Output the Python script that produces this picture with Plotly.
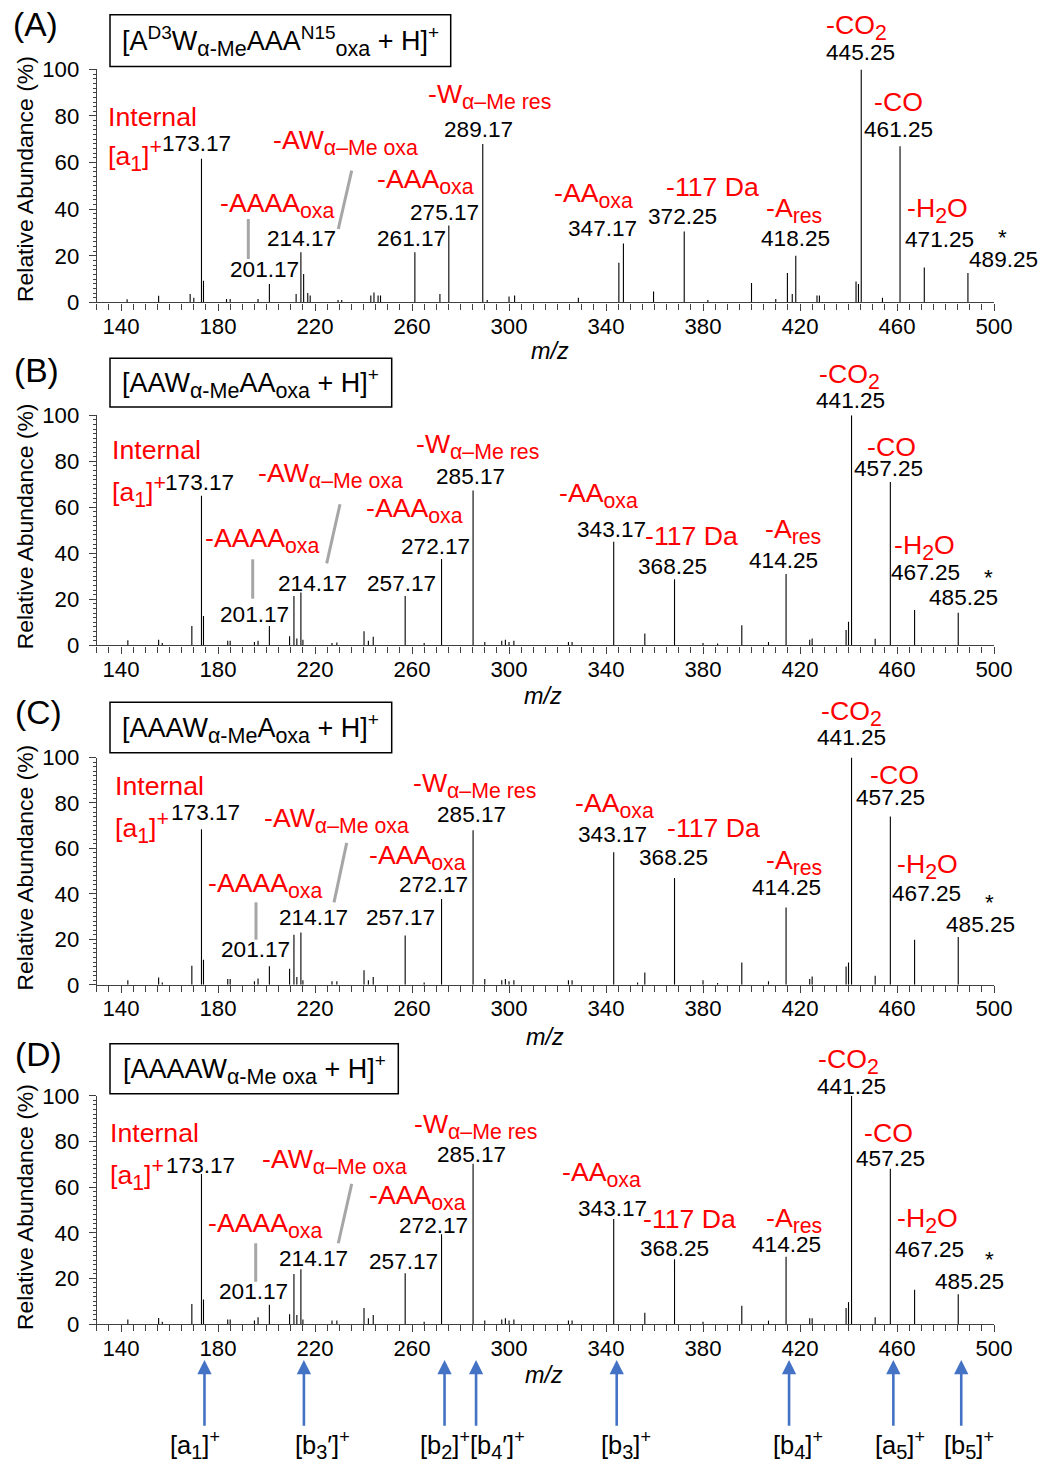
import plotly.graph_objects as go

# The photographed page is letter-boxed; positions below are given in target-picture pixels
TW, TH = 1040, 1467            # target picture size
S = 1040 / 1059                # picture scale
W, H = 1059, 1467              # figure size
OY = (TH - H * S) / 2          # vertical letterbox offset
FONT = "Liberation Sans, Arial, sans-serif"
RED = "#FF0000"
AXC = "#404040"

# ---------------- data ----------------
mzA = [142.5, 155.5, 168.5, 170.0, 173.17, 174.0, 183.5, 185.0, 196.5, 201.17, 212.2, 214.17,
       215.3, 217.0, 218.0, 229.5, 231.0, 243.0, 244.3, 246.0, 247.0, 261.17, 271.5, 275.17,
       289.17, 291.0, 300.0, 302.3, 328.6, 345.3, 347.17, 359.6, 372.25, 382.0, 400.0, 410.0,
       414.8, 416.8, 418.25, 427.0, 428.0, 443.1, 444.1, 445.25, 454.0, 461.25, 471.25, 489.25]
abA = [1.4, 2.9, 3.6, 2.0, 61.6, 9.3, 1.5, 1.5, 1.5, 7.9, 3.6, 21.5,
       12.2, 4.0, 3.0, 1.0, 1.0, 3.0, 4.3, 3.0, 3.0, 21.5, 3.6, 33.0,
       68.0, 1.0, 2.5, 3.0, 2.0, 17.0, 25.3, 4.7, 30.4, 1.0, 8.3, 1.5,
       12.6, 3.6, 20.0, 3.0, 3.0, 9.0, 7.9, 100.0, 2.0, 67.0, 15.0, 12.6]

mzB = [142.8, 155.5, 157.0, 169.2, 173.17, 174.0, 184.0, 185.0, 195.0, 196.5, 201.17, 209.5,
       211.3, 212.5, 214.17, 215.0, 227.0, 229.0, 240.2, 242.0, 244.0, 257.17, 265.0, 272.17,
       285.17, 290.0, 297.0, 298.5, 300.0, 302.0, 324.5, 326.0, 343.17, 356.0, 368.25, 380.0,
       386.0, 396.0, 407.0, 414.25, 424.0, 425.0, 439.0, 440.0, 441.25, 451.0, 457.25, 467.25, 485.25]
abB = [2.2, 2.5, 1.0, 8.4, 65.0, 12.8, 2.0, 2.0, 1.5, 2.0, 8.4, 4.0,
       21.5, 3.0, 23.0, 2.5, 1.0, 1.3, 6.2, 2.0, 3.8, 21.5, 1.0, 37.5,
       67.3, 1.5, 2.0, 2.5, 1.5, 2.0, 1.5, 1.5, 45.0, 5.2, 28.7, 1.0,
       0.8, 8.8, 1.5, 31.0, 2.5, 3.0, 6.7, 10.3, 100.0, 2.9, 71.0, 15.4, 14.2]

mzC = [142.8, 155.5, 157.0, 169.2, 173.17, 174.0, 184.0, 185.0, 195.0, 196.5, 201.17, 209.5,
       211.3, 212.5, 214.17, 215.0, 227.0, 229.0, 240.2, 242.0, 244.0, 257.17, 265.0, 272.17,
       285.17, 290.0, 297.0, 298.5, 300.0, 302.0, 324.5, 326.0, 343.17, 353.0, 356.0, 368.25,
       380.0, 386.0, 396.0, 407.0, 414.25, 424.0, 425.0, 439.0, 440.0, 441.25, 451.0, 457.25,
       467.25, 485.25]
abC = [2.0, 3.2, 1.0, 8.4, 68.4, 11.0, 2.5, 2.5, 1.5, 2.7, 8.1, 7.0,
       22.0, 3.4, 23.0, 2.0, 1.5, 1.5, 6.4, 2.0, 3.4, 21.7, 1.0, 37.7,
       68.0, 2.5, 2.0, 2.5, 1.5, 2.0, 2.0, 2.0, 58.3, 1.0, 5.4, 47.0,
       2.0, 0.8, 9.8, 1.5, 34.0, 2.5, 3.6, 8.0, 9.8, 100.0, 4.0, 74.0,
       19.8, 21.0]

mzD = [142.8, 155.5, 157.0, 169.2, 173.17, 174.0, 184.0, 185.0, 195.0, 196.5, 201.17, 209.5,
       211.3, 212.5, 214.17, 215.0, 227.0, 229.0, 240.2, 242.0, 244.0, 257.17, 265.0, 272.17,
       285.17, 290.0, 297.0, 298.5, 300.0, 302.0, 324.5, 326.0, 343.17, 356.0, 368.25, 380.0,
       396.0, 407.0, 414.25, 424.0, 425.0, 439.0, 440.0, 441.25, 451.0, 457.25, 467.25, 485.25]
abD = [2.0, 2.7, 1.0, 8.8, 65.8, 10.7, 2.0, 2.0, 1.5, 3.0, 8.5, 4.3,
       21.9, 4.0, 24.0, 2.0, 1.5, 1.5, 7.0, 2.5, 4.0, 22.3, 1.0, 39.3,
       70.2, 1.5, 2.0, 2.5, 1.5, 2.0, 1.5, 1.5, 46.0, 5.0, 28.4, 1.0,
       8.0, 1.5, 29.5, 2.5, 2.5, 7.0, 9.6, 100.0, 3.0, 68.0, 15.0, 13.0]

# labelled peaks (m/z) per panel
labA = [173.17, 201.17, 214.17, 261.17, 275.17, 289.17, 347.17, 372.25, 418.25, 445.25, 461.25, 471.25, 489.25]
labB = [173.17, 201.17, 214.17, 257.17, 272.17, 285.17, 343.17, 368.25, 414.25, 441.25, 457.25, 467.25, 485.25]
labC = labB
labD = labB

x_ticks = [140, 180, 220, 260, 300, 340, 380, 420, 460, 500]
y_ticks = [0, 20, 40, 60, 80, 100]
frag_mz = [173.17, 214.17, 272.17, 285.17, 343.17, 414.25, 457.25, 485.25]


def sb(t, size):
    return f"<sub><span style='font-size:{size}px'>{t}</span></sub>"


def sp(t, size):
    return f"<sup><span style='font-size:{size}px'>{t}</span></sup>"


TSS, TSP = 21.5, 19
titles = ["[A" + sp("D3", TSP) + "W" + sb("α-Me", TSS) + "AAA" + sp("N15", TSP) + sb("oxa", TSS) + " + H]" + sp("+", TSP),
          "[AAW" + sb("α-Me", TSS) + "AA" + sb("oxa", TSS) + " + H]" + sp("+", TSP),
          "[AAAW" + sb("α-Me", TSS) + "A" + sb("oxa", TSS) + " + H]" + sp("+", TSP),
          "[AAAAW" + sb("α-Me oxa", TSS) + " + H]" + sp("+", TSP)]
panel_letters = ["(A)", "(B)", "(C)", "(D)"]
RS = 21.3
loss_labels = ["Internal", "[a" + sb("1", RS) + "]" + sp("+", RS), "-AAAA" + sb("oxa", RS),
               "-AW" + sb("α–Me oxa", RS), "-AAA" + sb("oxa", RS), "-W" + sb("α–Me res", RS),
               "-AA" + sb("oxa", RS), "-117 Da", "-A" + sb("res", RS), "-CO" + sb("2", RS), "-CO",
               "-H" + sb("2", RS) + "O"]
FS, FP = 20, 18
frag_labels = ["[a" + sb("1", FS) + "]" + sp("+", FP), "[b" + sb("3", FS) + "′]" + sp("+", FP),
               "[b" + sb("2", FS) + "]" + sp("+", FP) + "[b" + sb("4", FS) + "′]" + sp("+", FP),
               "[b" + sb("3", FS) + "]" + sp("+", FP), "[b" + sb("4", FS) + "]" + sp("+", FP),
               "[a" + sb("5", FS) + "]" + sp("+", FP), "[b" + sb("5", FS) + "]" + sp("+", FP)]

# ---------------- geometry (target pixels) ----------------
def PX(x):
    return x / (S * W)


def PY(y):
    return 1 - (y - OY) / (S * H)


def F(size):
    return size / S


xdom = [PX(96.8), PX(994)]
ydoms = [(70.5, 303.3), (416, 646), (758, 985), (1096, 1324)]

black_pos = [
    [(196.7, 145), (264.3, 270), (301.3, 239.3), (411, 239.3), (444.3, 213.3), (478.3, 131),
     (602.6, 229.3), (682.2, 217.3), (795.6, 239.3), (860.3, 53.3), (898.8, 131), (939.6, 240.7), (1003, 260)],
    [(199, 483.3), (254.7, 615), (312.3, 584), (401.7, 584), (435, 546.7), (470, 477.3),
     (611.5, 530), (672, 566.7), (783.8, 561), (850.3, 401.7), (888.7, 469.3), (925.8, 573.3), (963.5, 598.3)],
    [(205.7, 813.3), (255, 950), (313.3, 918.3), (400, 918.3), (433.3, 885), (471.7, 815),
     (612.9, 835), (673.8, 858.3), (786, 888.3), (851.7, 738.3), (890.4, 798.3), (926.8, 894), (980.4, 925)],
    [(200.7, 1166), (253.3, 1291.7), (313.3, 1258.3), (403.3, 1261.7), (433.3, 1226), (471.7, 1155),
     (612.9, 1208.3), (674.1, 1248.3), (786, 1245), (851.7, 1086.7), (890.8, 1158.3), (929.2, 1249.3), (969.4, 1281.7)],
]
red_pos = [
    [(106, 118.3), (106, 157), (276.7, 206), (345, 144), (425.3, 183), (489, 98), (593, 196),
     (712.5, 188.3), (794, 211), (856, 29), (898, 103.3), (937, 211)],
    [(110, 450.7), (110, 492.7), (261.7, 541), (330, 476), (414.7, 511), (477.5, 447), (598, 496),
     (691, 536.7), (792.5, 531.7), (849.6, 377.7), (891, 447.3), (924, 548.3)],
    [(113.3, 786), (113.3, 827.7), (265, 886), (336.3, 821), (417.5, 857.7), (474, 786), (614, 806),
     (713, 828.3), (794, 863), (851, 714.3), (894.6, 775), (927.5, 867)],
    [(108.3, 1133.3), (108.3, 1174.3), (265, 1226), (334.5, 1161.7), (417.5, 1197.7), (475, 1127), (601, 1174.3),
     (689, 1219), (794, 1221), (848, 1061.7), (888.7, 1132.7), (927, 1221)],
]
star_pos = [(1002, 238.3), (988, 578.3), (989.8, 903.3), (989.8, 1260)]
gray_lines = [
    [((248.3, 220), (248.3, 260)), ((351.7, 171.7), (338.3, 230))],
    [((252.7, 560), (252.7, 599.3)), ((340, 505), (326.7, 564))],
    [((256, 902.7), (256, 940)), ((346.7, 843.3), (334, 902.7))],
    [((255.7, 1243.3), (255.7, 1281.7)), ((351.7, 1184), (338.3, 1243.3))],
]
boxes = [(110, 16, 450.7, 67.7), (110, 359, 391.7, 407.7), (110, 702.7, 391.7, 753.3), (110, 1044, 398.3, 1094)]
letter_pos = [(35, 26), (36.7, 371.7), (38.3, 713.3), (38.3, 1055)]
ytitle_pos = [(25, 180), (25, 527), (25, 868), (25, 1207)]
mz_pos = [(550, 352), (543, 697), (545, 1037), (544, 1375)]
frag_label_pos = [195, 322, 472, 625.7, 798, 900, 969]

# ---------------- figure ----------------
fig = go.Figure()
spectra = [(mzA, abA), (mzB, abB), (mzC, abC), (mzD, abD)]
for i, (mz, ab) in enumerate(spectra, start=1):
    xs, ys = [], []
    for m, a in zip(mz, ab):
        xs += [m, m, None]
        ys += [0, a, None]
    fig.add_trace(go.Scatter(x=xs, y=ys, mode="lines", line=dict(color="black", width=1.1),
                             xaxis=f"x{i}", yaxis=f"y{i}", showlegend=False, hoverinfo="skip",
                             cliponaxis=False))

lay = dict(width=W, height=H, autosize=False, margin=dict(l=0, r=0, t=0, b=0), plot_bgcolor="white",
           paper_bgcolor="white", showlegend=False, font=dict(family=FONT, color="black"))
for i, (top, bot) in enumerate(ydoms, start=1):
    lay[f"xaxis{i}"] = dict(domain=xdom, range=[130, 500], anchor=f"y{i}", showgrid=False, zeroline=False,
                            showline=True, linecolor=AXC, linewidth=1.2, ticks="outside", ticklen=7,
                            tickcolor=AXC, tickmode="array", tickvals=x_ticks,
                            ticklabelstandoff=-3, tickfont=dict(size=F(21.8), family=FONT, color="black"),
                            minor=dict(dtick=5, tick0=130, ticks="outside", ticklen=6, tickcolor=AXC))
    lay[f"yaxis{i}"] = dict(domain=[PY(bot), PY(top)], range=[0, 100], anchor=f"x{i}", showgrid=False,
                            zeroline=False, showline=True, linecolor=AXC, linewidth=1.2, ticks="outside",
                            ticklen=7, tickcolor=AXC, tickmode="array", tickvals=y_ticks,
                            ticklabelstandoff=5, tickfont=dict(size=F(21.8), family=FONT, color="black"),
                            minor=dict(dtick=2, ticks="outside", ticklen=3, tickcolor=AXC))
fig.update_layout(**lay)

anns = []
shapes = []


def T(x, y, text, size=22, color="black", xanchor="center"):
    anns.append(dict(x=PX(x), y=PY(y), xref="paper", yref="paper", text=text, showarrow=False,
                     font=dict(family=FONT, size=F(size), color=color), xanchor=xanchor, yanchor="middle"))


labs = [labA, labB, labC, labD]
for p in range(4):
    for m, (x, y) in zip(labs[p], black_pos[p]):
        T(x, y, f"{m:.2f}", 22.2)
    for k, (txt, (x, y)) in enumerate(zip(loss_labels, red_pos[p])):
        T(x, y, txt, 26.2, RED, "left" if k < 2 else "center")
    T(*star_pos[p], "*", 22)
    for (x0, y0), (x1, y1) in gray_lines[p]:
        shapes.append(dict(type="line", xref="paper", yref="paper", x0=PX(x0), y0=PY(y0), x1=PX(x1), y1=PY(y1),
                           line=dict(color="#A6A6A6", width=3)))
    bx0, by0, bx1, by1 = boxes[p]
    shapes.append(dict(type="rect", xref="paper", yref="paper", x0=PX(bx0), y0=PY(by1), x1=PX(bx1), y1=PY(by0),
                       line=dict(color="black", width=1.5)))
    T((bx0 + bx1) / 2, (by0 + by1) / 2 + 1, titles[p], 26.5)
    T(*letter_pos[p], panel_letters[p], 33)
    anns.append(dict(x=PX(ytitle_pos[p][0]), y=PY(ytitle_pos[p][1]), xref="paper", yref="paper",
                     text="Relative Abundance (%)", textangle=-90, showarrow=False,
                     font=dict(family=FONT, size=F(22.5), color="black"), xanchor="center", yanchor="middle"))
    T(*mz_pos[p], "<i>m/z</i>", 23)

# fragment arrows below panel D
for m in frag_mz:
    anns.append(dict(x=m, y=PY(1360), xref="x4", yref="paper", text="", showarrow=True, arrowhead=2,
                     arrowsize=1.1, arrowwidth=2.6, arrowcolor="#4472C4", ax=0, ay=F(66), xshift=3))
for txt, x in zip(frag_labels, frag_label_pos):
    T(x, 1445, txt, 25)

fig.update_layout(annotations=anns, shapes=shapes)
fig.write_html("out.html", config={"responsive": False, "displayModeBar": False},
               post_script="var d=document.getElementById('{plot_id}');"
                           "d.style.position='fixed';d.style.left='0px';d.style.top='0px';"
                           "document.body.style.margin='0';document.body.style.padding='0';"
                           "document.documentElement.style.overflow='hidden';")
